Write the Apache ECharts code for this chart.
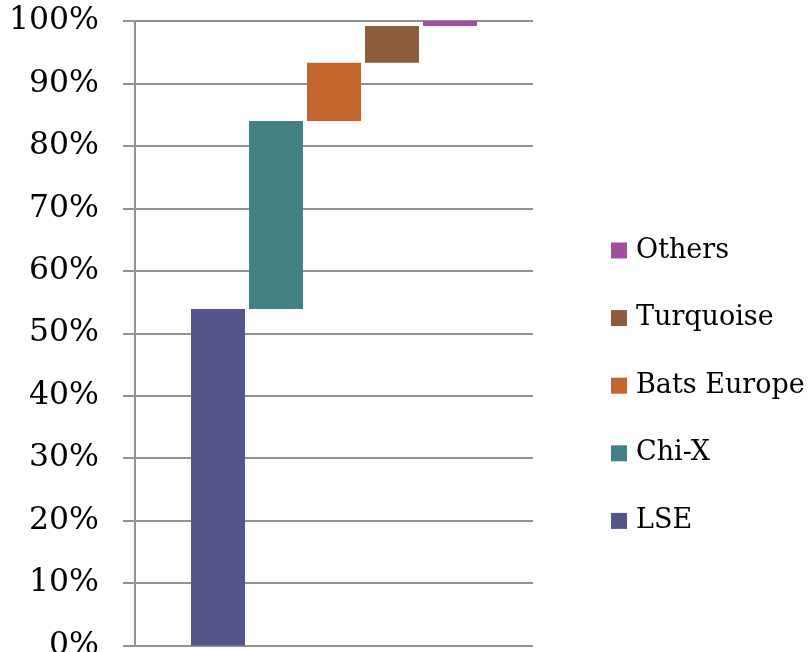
<!DOCTYPE html>
<html>
<head>
<meta charset="utf-8">
<script src="https://cdn.jsdelivr.net/npm/echarts@6/dist/echarts.min.js"></script>
<style>
  html, body { margin: 0; padding: 0; background: #ffffff; }
  #chart { width: 809px; height: 652px; }
</style>
</head>
<body>
<div id="chart"></div>
<script>
// ---- data ----
const categories = ['LSE', 'Chi-X', 'Bats Europe', 'Turquoise', 'Others'];
const shares = [53.9, 30.1, 9.3, 5.9, 0.8];          // % of market share
const colors = ['#53548A', '#438086', '#C4652D', '#8B5D3D', '#A24DA4'];
const legendOrder = ['Others', 'Turquoise', 'Bats Europe', 'Chi-X', 'LSE'];
const yMin = 0, yMax = 100, yStep = 10;

// waterfall base: running total of the previous shares
const bases = [];
let run = 0;
for (const v of shares) { bases.push(run); run += v; }

const FONT = 'DejaVu Serif';
const gridColor = '#929292';
const gridTop = 21, gridBottom = 6.5;

const seriesList = [{
  name: '_base', type: 'bar', stack: 'w',
  xAxisIndex: 1, yAxisIndex: 1,
  data: bases, barWidth: 54, silent: true,
  itemStyle: { color: 'transparent' }
}];
categories.forEach((c, i) => {
  seriesList.push({
    name: c, type: 'bar', stack: 'w',
    xAxisIndex: 1, yAxisIndex: 1, barWidth: 54,
    data: categories.map((_, j) => (j === i ? shares[i] : null)),
    itemStyle: { color: colors[i] }
  });
});

const chart = echarts.init(document.getElementById('chart'), null, { renderer: 'canvas' });
chart.setOption({
  animation: false,
  backgroundColor: '#ffffff',
  grid: [
    { left: 135, right: 276, top: gridTop, bottom: gridBottom, containLabel: false, outerBoundsMode: 'none' },
    { left: 189, width: 290, top: gridTop, bottom: gridBottom, containLabel: false, outerBoundsMode: 'none' }
  ],
  xAxis: [
    { type: 'value', gridIndex: 0, show: false, min: 0, max: 1 },
    { type: 'category', gridIndex: 1, data: categories, show: false }
  ],
  yAxis: [
    {
      type: 'value', gridIndex: 0, min: yMin, max: yMax, interval: yStep,
      axisLine: { show: true, lineStyle: { color: gridColor, width: 2 } },
      axisTick: { show: true, inside: false, length: 12, lineStyle: { color: gridColor, width: 2 } },
      splitLine: { show: true, lineStyle: { color: gridColor, width: 2 } },
      axisLabel: {
        formatter: '{value}%', margin: 36, padding: [6, 0, 0, 0],
        fontFamily: FONT, fontSize: 31.5, color: '#000000'
      }
    },
    { type: 'value', gridIndex: 1, min: yMin, max: yMax, show: false }
  ],
  legend: {
    orient: 'vertical', left: 611, top: 235.5, padding: 0,
    data: legendOrder, icon: 'rect',
    itemWidth: 16, itemHeight: 16, itemGap: 37.6,
    textStyle: { fontFamily: FONT, fontSize: 27, color: '#000000', lineHeight: 30, padding: [0, 0, 0, 4] },
    selectedMode: false
  },
  series: seriesList
});
</script>
</body>
</html>
